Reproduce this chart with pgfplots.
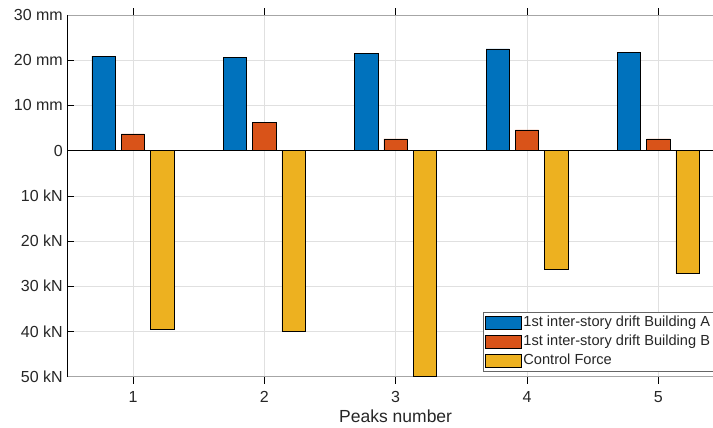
\documentclass[border=0pt]{standalone}
\usepackage{pgfplots}
\pgfplotsset{compat=1.18}
\usepackage{fontspec}
\setmainfont{Liberation Sans}

\definecolor{mblue}{HTML}{0072BD}
\definecolor{morange}{HTML}{D95319}
\definecolor{myellow}{HTML}{EDB120}
\definecolor{gridgray}{HTML}{E0E0E0}
\definecolor{boxgray}{HTML}{A6A6A6}

\begin{document}
\begin{tikzpicture}
\begin{axis}[
  scale only axis,
  width=656.7bp, height=361.7bp,
  xmin=0.5, xmax=5.5,
  ymin=-50, ymax=30,
  xtick={1,2,3,4,5},
  xticklabels={1,2,3,4,5},
  ytick={-50,-40,-30,-20,-10,0,10,20,30},
  yticklabels={50 kN,40 kN,30 kN,20 kN,10 kN,0,10 mm,20 mm,30 mm},
  tick align=inside,
  xtick pos=both, ytick pos=left,
  major tick length=7bp,
  tick style={black, line width=0.6pt},
  separate axis lines,
  x axis line style={draw=boxgray, line width=0.8pt},
  y axis line style={draw=black, line width=0.8pt},
  grid=major,
  major grid style={gridgray, line width=0.6pt},
  ticklabel style={font=\fontsize{16bp}{18bp}\selectfont, text=black!85},
  xticklabel style={yshift=-4bp},
  yticklabel style={xshift=-1bp},
  xlabel={Peaks number},
  xlabel style={font=\fontsize{17.5bp}{20bp}\selectfont, text=black!85,
    at={(axis description cs:0.5,0)}, anchor=center, yshift=-40bp},
  ybar,
  bar width=0.178,
  legend cell align=left,
  legend style={
    at={(axis description cs:0.6335,0.178)}, anchor=north west,
    draw=black!60, line width=0.6pt, fill=white,
    font=\fontsize{14.6bp}{16bp}\selectfont, text=black!85,
    inner xsep=1.5bp, inner ysep=1bp, row sep=0bp,
    nodes={inner sep=2bp, text height=11bp, text depth=3.8bp},
  },
  legend image code/.code={
    \draw[#1, draw=black, line width=0.6pt] (0bp,-6.5bp) rectangle (35.7bp,6.5bp);
  },
]
\addplot[fill=mblue, draw=black, line width=0.6pt, bar shift=-0.223]
  coordinates {(1,20.9) (2,20.7) (3,21.5) (4,22.5) (5,21.7)};
\addplot[fill=morange, draw=black, line width=0.6pt, bar shift=0]
  coordinates {(1,3.7) (2,6.3) (3,2.6) (4,4.6) (5,2.6)};
\addplot[fill=myellow, draw=black, line width=0.6pt, bar shift=0.223]
  coordinates {(1,-39.5) (2,-40.0) (3,-50.0) (4,-26.3) (5,-27.2)};
% zero baseline
\addplot[sharp plot, black, line width=0.8pt, forget plot]
  coordinates {(0.5,0) (5.5,0)};
\legend{1st inter-story drift Building A\hspace{8bp}, 1st inter-story drift Building B, Control Force}
\end{axis}
\pgfresetboundingbox
\path[use as bounding box] (-67.3bp,-51.3bp) rectangle (645.7bp,376.7bp);
\end{tikzpicture}
\end{document}
